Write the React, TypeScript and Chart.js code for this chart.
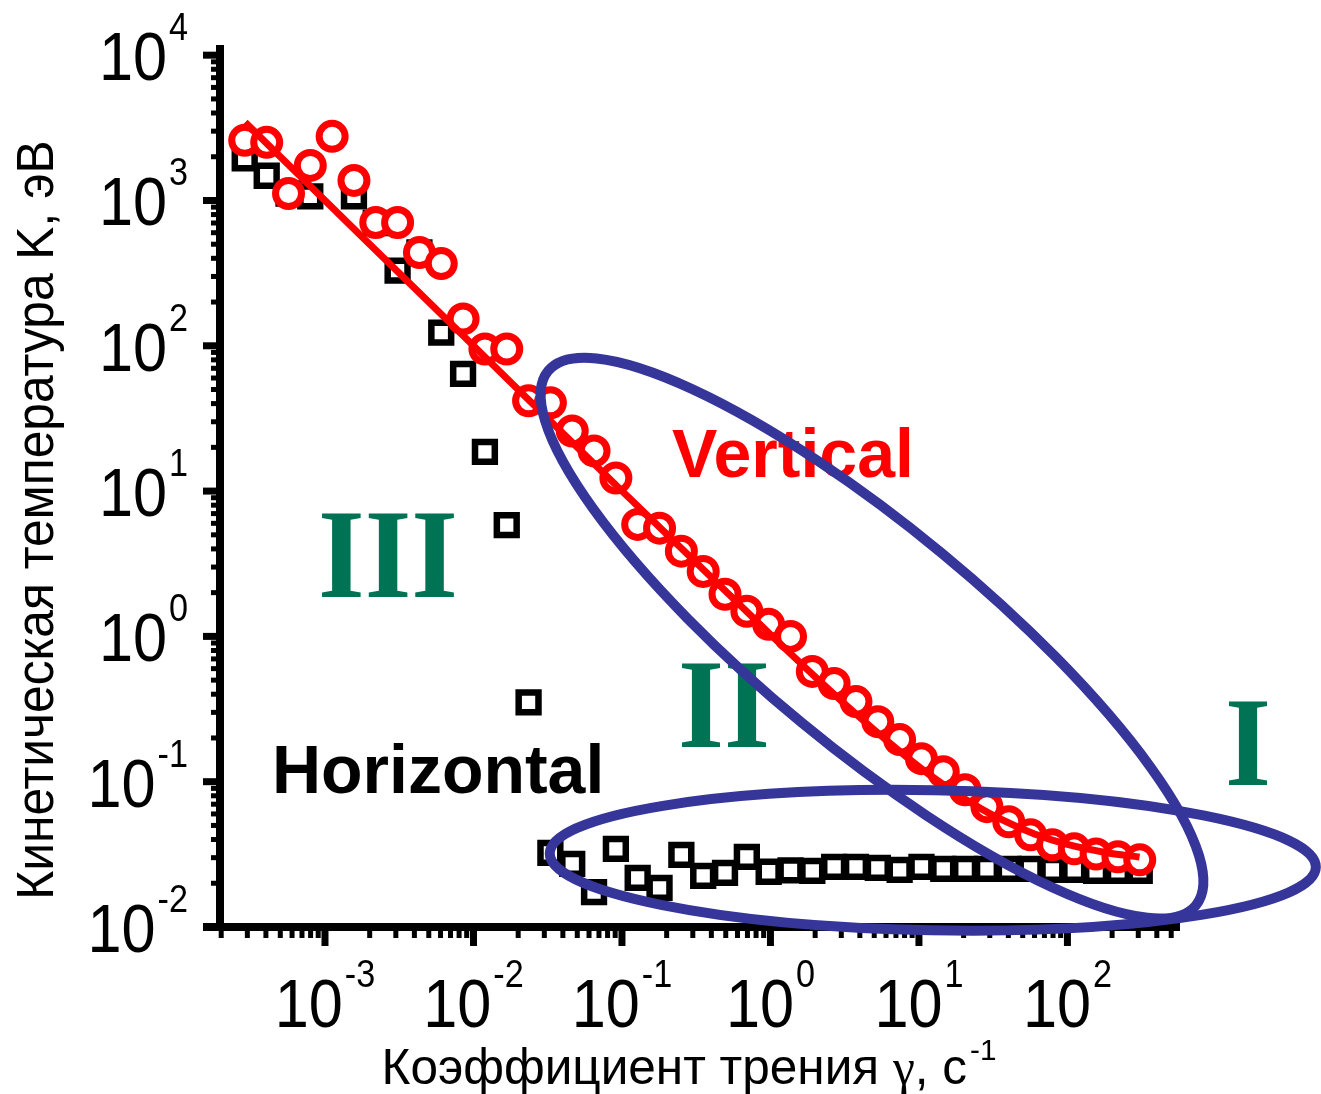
import React, { useEffect, useRef } from "react";
import { Chart, registerables } from "chart.js";

Chart.register(...registerables);

// Friction coefficient γ (1/s) shared by both series
const gamma = [
  2.88e-4, 4.05e-4, 5.68e-4, 7.96e-4, 1.117e-3, 1.567e-3, 2.198e-3, 3.083e-3,
  4.325e-3, 6.067e-3, 8.511e-3, 0.01194, 0.01675, 0.0235, 0.03296, 0.04624,
  0.06486, 0.09099, 0.1276, 0.1791, 0.2512, 0.3524, 0.4943, 0.6934, 0.9727,
  1.365, 1.914, 2.685, 3.767, 5.284, 7.413, 10.4, 14.59, 20.46, 28.71, 40.27,
  56.49, 79.25, 111.2, 156.0, 218.8, 306.9,
];

// Kinetic temperature K (eV), vertical motion
const kVertical = [
  2594, 2512, 1117, 1742, 2762, 1374, 705, 705, 438, 368, 153, 95, 95, 41.8,
  40.5, 25.9, 18.9, 12.3, 5.9, 5.56, 3.86, 2.8, 1.95, 1.49, 1.21, 1.0, 0.574,
  0.474, 0.356, 0.259, 0.195, 0.144, 0.117, 0.088, 0.0673, 0.053, 0.0431,
  0.0368, 0.0345, 0.0318, 0.0304, 0.029,
];

// Kinetic temperature K (eV), horizontal motion
const kHorizontal = [
  1950, 1480, 1117, 1066, null, 1066, 700, 329, 440, 123, 64.1, 18.6, 5.83,
  0.351, 0.0324, 0.0272, 0.0174, 0.0345, 0.0218, 0.0186, 0.0314, 0.0225,
  0.0236, 0.0304, 0.024, 0.0245, 0.0243, 0.0259, 0.0259, 0.0255, 0.0247,
  0.0259, 0.0251, 0.0251, 0.0251, 0.0251, 0.0251, 0.0247, 0.0247, 0.0243,
  0.0243, 0.0243,
];

// Fitted curve through the vertical data
const fitGamma = [2.9e-4, 1e-3, 1e-2, 0.1, 1, 2, 4, 7, 12, 20, 35, 60, 100, 180, 306];
const fitK = [3450, 1000, 100, 10.03, 1.03, 0.527, 0.277, 0.17, 0.11, 0.077, 0.0556, 0.0437, 0.037, 0.0326, 0.0303];

// Decade exponents labelled on each axis
const xTickExponents = [-3, -2, -1, 0, 1, 2];
const yTickExponents = [-2, -1, 0, 1, 2, 3, 4];

const X_MIN = 1.963e-4;
const X_MAX = 573;
const Y_MIN = 0.01;
const Y_MAX = 11750;

const SANS = '"Liberation Sans", Arial, sans-serif';
const SERIF = '"Liberation Serif", "Times New Roman", serif';
const BLUE = "#35359a";
const GREEN = "#007355";

// Region outlines: centre and one end of the long axis in data units,
// half-width across in decades of K
const regionOutlines = [
  { cg: 4.83, ck: 0.973, tg: 733, tk: 0.0141, minorDecades: 0.757 },
  { cg: 12.4, ck: 0.0288, tg: 4710, tk: 0.0258, minorDecades: 0.482 },
];

// Text annotations anchored in data units (left edge, baseline)
const annotations = [
  { text: "Vertical", g: 0.217, k: 12.5, font: `bold 68px ${SANS}`, color: "#ff0000", maxW: 0 },
  { text: "Horizontal", g: 4.39e-4, k: 0.0834, font: `bold 68px ${SANS}`, color: "#000000", maxW: 0 },
  { text: "III", g: 8.97e-4, k: 1.86, font: `bold 128px ${SERIF}`, color: GREEN, maxW: 140 },
  { text: "II", g: 0.238, k: 0.1726, font: `bold 128px ${SERIF}`, color: GREEN, maxW: 92 },
  { text: "I", g: 1150, k: 0.0946, font: `bold 128px ${SERIF}`, color: GREEN, maxW: 46 },
];

function drawScaled(
  ctx: CanvasRenderingContext2D,
  s: string,
  x: number,
  y: number,
  font: string,
  hs: number,
  align: CanvasTextAlign = "left"
) {
  ctx.save();
  ctx.font = font;
  ctx.textAlign = align;
  ctx.textBaseline = "alphabetic";
  ctx.translate(x, y);
  ctx.scale(hs, 1);
  ctx.fillText(s, 0, 0);
  ctx.restore();
}

function measure(ctx: CanvasRenderingContext2D, s: string, font: string, hs: number) {
  ctx.save();
  ctx.font = font;
  const w = ctx.measureText(s).width * hs;
  ctx.restore();
  return w;
}

const BASE_FONT = `68px ${SANS}`;
const SUP_FONT = `38px ${SANS}`;
const HS = 0.9;

function drawPower(
  ctx: CanvasRenderingContext2D,
  exp: number,
  ax: number,
  baseline: number,
  align: "center" | "right"
) {
  const sup = exp < 0 ? "-" + Math.abs(exp) : String(exp);
  const wb = measure(ctx, "10", BASE_FONT, HS);
  const ws = measure(ctx, sup, SUP_FONT, HS);
  const gap = 2;
  const total = wb + gap + ws;
  const x0 = align === "center" ? ax - total / 2 : ax - total;
  ctx.fillStyle = "#000";
  drawScaled(ctx, "10", x0, baseline, BASE_FONT, HS);
  drawScaled(ctx, sup, x0 + wb + gap, baseline - 40, SUP_FONT, HS);
}

const framePlugin = {
  id: "frame",
  beforeDatasetsDraw(chart: any) {
    const ctx: CanvasRenderingContext2D = chart.ctx;
    const xs = chart.scales.x;
    const ys = chart.scales.y;
    const area = chart.chartArea;
    ctx.save();
    ctx.strokeStyle = "#000";
    ctx.fillStyle = "#000";
    ctx.lineCap = "butt";

    const axisW = 8;
    const yAxisX = area.left;
    const xAxisY = ys.getPixelForValue(Y_MIN);

    // axis lines
    ctx.lineWidth = axisW;
    ctx.beginPath();
    ctx.moveTo(yAxisX, area.top);
    ctx.lineTo(yAxisX, xAxisY + axisW / 2);
    ctx.stroke();
    ctx.beginPath();
    ctx.moveTo(yAxisX - 17, xAxisY);
    ctx.lineTo(area.right, xAxisY);
    ctx.stroke();

    // log ticks
    const eachTick = (min: number, max: number, fn: (v: number, major: boolean) => void) => {
      for (let d = Math.floor(Math.log10(min)); d <= Math.ceil(Math.log10(max)); d++) {
        for (let m = 1; m <= 9; m++) {
          const v = m * Math.pow(10, d);
          if (v >= min * 0.999 && v <= max * 1.001) fn(v, m === 1);
        }
      }
    };
    eachTick(Y_MIN, Y_MAX, (v, major) => {
      const py = ys.getPixelForValue(v);
      ctx.lineWidth = major ? 7 : 5;
      ctx.beginPath();
      ctx.moveTo(yAxisX, py);
      ctx.lineTo(yAxisX - axisW / 2 - (major ? 13 : 5), py);
      ctx.stroke();
    });
    eachTick(X_MIN, X_MAX, (v, major) => {
      const px = xs.getPixelForValue(v);
      ctx.lineWidth = major ? 7 : 5;
      ctx.beginPath();
      ctx.moveTo(px, xAxisY);
      ctx.lineTo(px, xAxisY + axisW / 2 + (major ? 15 : 7));
      ctx.stroke();
    });

    // tick labels
    yTickExponents.forEach((e) => {
      const py = ys.getPixelForValue(Math.pow(10, e));
      drawPower(ctx, e, 188, py + 25, "right");
    });
    xTickExponents.forEach((e) => {
      const px = xs.getPixelForValue(Math.pow(10, e));
      drawPower(ctx, e, px, 1027, "center");
    });

    // axis titles
    const yTitleFont = `51px ${SANS}`;
    ctx.save();
    ctx.translate(53, 520);
    ctx.rotate(-Math.PI / 2);
    drawScaled(ctx, "Кинетическая температура K, эВ", 0, 0, yTitleFont, 0.975, "center");
    ctx.restore();

    const titleFont = `50px ${SANS}`;
    const tHs = 0.99;
    const p1 = "Коэффициент трения ";
    const p2 = "γ";
    const p3 = ", с";
    const p4 = "-1";
    const gFont = `50px ${SERIF}`;
    const supFont = `30px ${SANS}`;
    const w1 = measure(ctx, p1, titleFont, tHs);
    const w2 = measure(ctx, p2, gFont, tHs);
    const w3 = measure(ctx, p3, titleFont, tHs);
    const w4 = measure(ctx, p4, supFont, tHs);
    const total = w1 + w2 + w3 + 3 + w4;
    let x = 689 - total / 2;
    const by = 1084;
    drawScaled(ctx, p1, x, by, titleFont, tHs);
    x += w1;
    drawScaled(ctx, p2, x, by, gFont, tHs);
    x += w2;
    drawScaled(ctx, p3, x, by, titleFont, tHs);
    x += w3 + 3;
    drawScaled(ctx, p4, x, by - 24, supFont, tHs);

    ctx.restore();
  },
  afterDatasetsDraw(chart: any) {
    const ctx: CanvasRenderingContext2D = chart.ctx;
    const xs = chart.scales.x;
    const ys = chart.scales.y;
    ctx.save();

    annotations.forEach((a) => {
      ctx.font = a.font;
      ctx.fillStyle = a.color;
      ctx.textAlign = "left";
      ctx.textBaseline = "alphabetic";
      const px = xs.getPixelForValue(a.g);
      const py = ys.getPixelForValue(a.k);
      if (a.maxW) ctx.fillText(a.text, px, py, a.maxW);
      else ctx.fillText(a.text, px, py);
    });

    const decadePx = Math.abs(ys.getPixelForValue(1) - ys.getPixelForValue(10));
    ctx.strokeStyle = BLUE;
    ctx.lineWidth = 10;
    regionOutlines.forEach((e) => {
      const cx = xs.getPixelForValue(e.cg);
      const cy = ys.getPixelForValue(e.ck);
      const tx = xs.getPixelForValue(e.tg);
      const ty = ys.getPixelForValue(e.tk);
      const a = Math.hypot(tx - cx, ty - cy);
      const rot = Math.atan2(ty - cy, tx - cx);
      ctx.beginPath();
      ctx.ellipse(cx, cy, a, e.minorDecades * decadePx, rot, 0, Math.PI * 2);
      ctx.stroke();
    });
    ctx.restore();
  },
};

export default function App() {
  const canvasRef = useRef<HTMLCanvasElement | null>(null);

  useEffect(() => {
    const canvas = canvasRef.current;
    if (!canvas) return;

    const horizontalPts = gamma
      .map((g, i) => ({ x: g, y: kHorizontal[i] }))
      .filter((p) => p.y !== null) as { x: number; y: number }[];
    const verticalPts = gamma.map((g, i) => ({ x: g, y: kVertical[i] }));
    const fitPts = fitGamma.map((g, i) => ({ x: g, y: fitK[i] }));

    const chart = new Chart(canvas, {
      type: "scatter",
      data: {
        datasets: [
          {
            label: "fit",
            data: fitPts,
            showLine: true,
            borderColor: "#ff0000",
            borderWidth: 7,
            pointRadius: 0,
            cubicInterpolationMode: "monotone",
            clip: false,
            order: 0,
          } as any,
          {
            label: "Vertical",
            data: verticalPts,
            showLine: false,
            pointStyle: "circle",
            pointRadius: 13,
            pointBorderWidth: 7,
            pointBorderColor: "#ff0000",
            pointBackgroundColor: "#ffffff",
            clip: false,
            order: 1,
          } as any,
          {
            label: "Horizontal",
            data: horizontalPts,
            showLine: false,
            pointStyle: "rect",
            pointRadius: 14,
            pointBorderWidth: 6.5,
            pointBorderColor: "#000000",
            pointBackgroundColor: "#ffffff",
            clip: false,
            order: 2,
          } as any,
        ],
      },
      options: {
        animation: false,
        responsive: false,
        devicePixelRatio: 1,
        layout: { padding: { left: 220, right: 141, top: 45, bottom: 167 } },
        plugins: { legend: { display: false }, tooltip: { enabled: false } },
        scales: {
          x: { type: "logarithmic", min: X_MIN, max: X_MAX, display: false },
          y: { type: "logarithmic", min: Y_MIN, max: Y_MAX, display: false },
        },
        events: [],
      },
      plugins: [framePlugin],
    });

    return () => chart.destroy();
  }, []);

  return (
    <div
      style={{
        position: "fixed",
        left: 0,
        top: 0,
        width: 1321,
        height: 1094,
        background: "#ffffff",
      }}
    >
      <canvas ref={canvasRef} width={1321} height={1094} style={{ display: "block" }} />
    </div>
  );
}
